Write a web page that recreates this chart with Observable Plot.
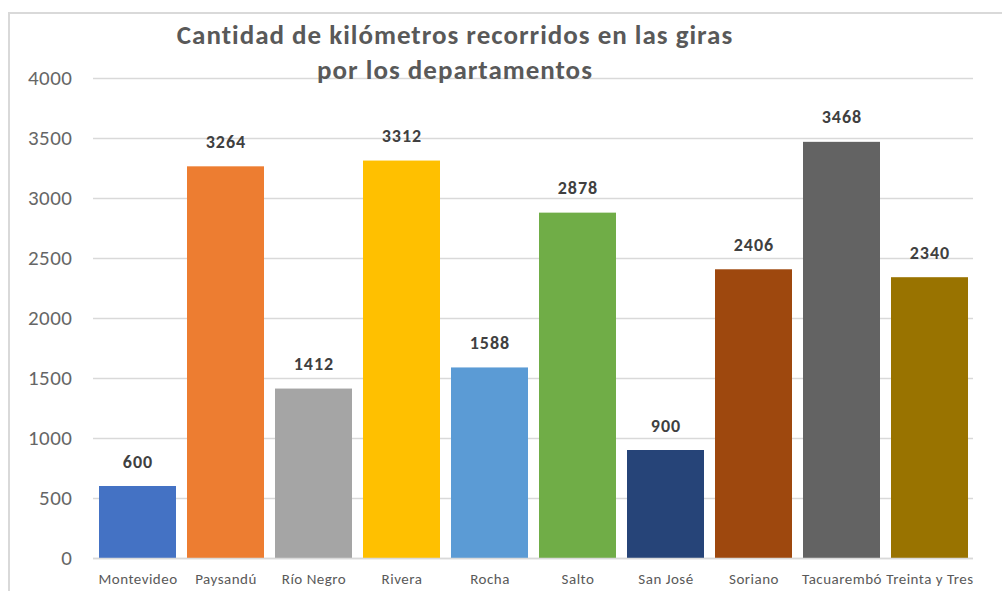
<!DOCTYPE html>
<html>
<head>
<meta charset="utf-8">
<script src="https://cdn.jsdelivr.net/npm/d3@7"></script>
<script src="https://cdn.jsdelivr.net/npm/@observablehq/plot@0.6"></script>
<style>
  html, body { margin: 0; padding: 0; background: #fff; }
  #wrap { position: relative; width: 1002px; height: 591px; overflow: hidden; font-family: Carlito, Lato, sans-serif; }
  #border { position: absolute; left: 8px; top: 12px; width: 1100px; height: 700px; border-top: 2px solid #d9d9d9; border-left: 2px solid #d9d9d9; box-sizing: border-box; }
  #title { position: absolute; left: 105px; width: 700px; top: 17px; text-align: center; font-weight: bold; font-size: 27px; letter-spacing: 1px; line-height: 35px; color: #595959; z-index: 2; }
  #chart { position: absolute; left: 0; top: 0; }
  #chart g[aria-label="text"] text { letter-spacing: 1px; }
  #chart g[aria-label="x-axis tick label"] text { letter-spacing: 0.5px; }
  #chart g[aria-label="y-axis tick label"] text { letter-spacing: 0.5px; }
</style>
</head>
<body>
<div id="wrap">
  <div id="border"></div>
  <div id="chart"></div>
  <div id="title">Cantidad de kilómetros recorridos en las giras<br>por los departamentos</div>
</div>
<script>
const departamentos = ["Montevideo", "Paysandú", "Río Negro", "Rivera", "Rocha", "Salto", "San José", "Soriano", "Tacuarembó", "Treinta y Tres"];
const kilometros = [600, 3264, 1412, 3312, 1588, 2878, 900, 2406, 3468, 2340];
const colores = ["#4472C4", "#ED7D31", "#A5A5A5", "#FFC000", "#5B9BD5", "#70AD47", "#264478", "#9E480E", "#636363", "#997300"];
const yTicks = [0, 500, 1000, 1500, 2000, 2500, 3000, 3500, 4000];

const data = departamentos.map((d, i) => ({dep: d, km: kilometros[i]}));

const chart = Plot.plot({
  width: 1002,
  height: 591,
  marginLeft: 93,
  marginRight: 29,
  marginTop: 78,
  marginBottom: 33,
  style: {fontFamily: "Carlito, Lato, sans-serif", background: "transparent", overflow: "visible"},
  x: {domain: departamentos, paddingInner: 0.125, paddingOuter: 0.0625, label: null},
  y: {domain: [0, 4000], label: null},
  color: {domain: departamentos, range: colores},
  marks: [
    Plot.gridY(yTicks, {stroke: "#d9d9d9", strokeOpacity: 1, strokeWidth: 1.5}),
    Plot.barY(data, {x: "dep", y: "km", fill: "dep"}),
    Plot.ruleY([0], {stroke: "#d9d9d9", strokeWidth: 1.5}),
    Plot.text(data, {x: "dep", y: "km", text: d => String(d.km), dy: -19, lineAnchor: "bottom", fontWeight: "bold", fontSize: 18, fill: "#404040"}),
    Plot.axisY(yTicks, {tickSize: 0, tickPadding: 21, fontSize: 21, fill: "#666666", tickFormat: d => String(d)}),
    Plot.axisX({tickSize: 0, tickPadding: 15, fontSize: 15, fill: "#595959"})
  ]
});
document.getElementById("chart").appendChild(chart);
</script>
</body>
</html>
